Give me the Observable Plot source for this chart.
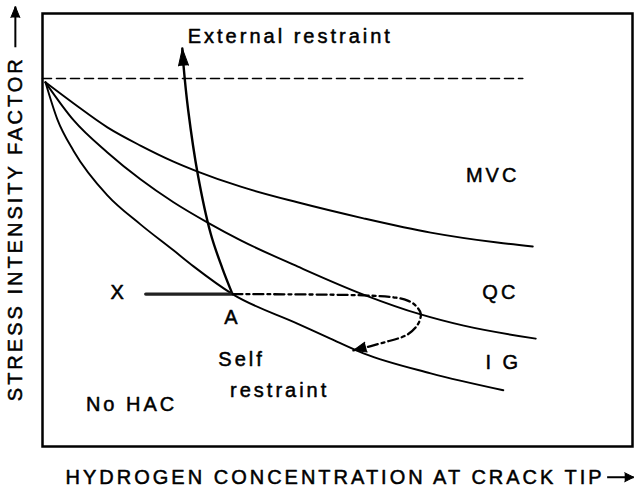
<!DOCTYPE html>
<html>
<head>
<meta charset="utf-8">
<script src="https://cdn.jsdelivr.net/npm/d3@7"></script>
<script src="https://cdn.jsdelivr.net/npm/@observablehq/plot@0.6"></script>
<style>
  html, body { margin: 0; padding: 0; background: #fff; }
  #chart { width: 641px; height: 490px; }
</style>
</head>
<body>
<div id="chart"></div>
<script>
// Schematic units: hydrogen concentration (x) and stress intensity factor (y), 0–100
const mvcX = [0.5, 5.3, 11.0, 16.6, 22.2, 26.3, 33.6, 43.2, 54.4, 65.8, 77.1, 83.1];
const mvcY = [84.1, 79.2, 73.7, 69.5, 65.8, 63.5, 60.0, 56.4, 52.7, 49.4, 47.1, 46.2];

const qcX = [0.5, 5.3, 11.0, 16.6, 22.2, 28.0, 33.6, 43.2, 54.4, 64.1, 71.4, 83.6];
const qcY = [84.1, 75.3, 67.9, 61.7, 56.4, 51.7, 47.6, 41.6, 35.1, 30.5, 27.9, 24.9];

const igX = [0.5, 2.5, 5.3, 11.0, 16.6, 22.2, 25.6, 32.2, 43.2, 48.8, 54.4, 65.8, 78.1];
const igY = [84.1, 75.6, 68.2, 58.0, 51.3, 45.3, 41.6, 35.2, 28.4, 24.9, 21.5, 16.9, 13.0];

// critical level (dashed)
const critX = [0, 81.4];
const critY = [85.0, 85.0];

// external restraint path (A upwards)
const extX = [32.2, 30.5, 28.5, 26.3, 24.7, 23.9, 23.7];
const extY = [35.2, 41.1, 49.2, 63.0, 77.6, 88.0, 91.9];

// X -> A loading path
const xaX = [17.5, 32.2];
const xaY = [35.2, 35.2];

// self restraint path (dash-dot)
const selfX = [32.2, 54.4, 59.8, 61.9, 63.2, 64.1, 63.7, 61.9, 57.8, 52.7];
const selfY = [35.2, 34.9, 34.4, 33.7, 32.6, 30.7, 28.4, 25.9, 24.0, 22.2];

// labels
const labelText = ["External restraint", "MVC", "QC", "I G", "X", "A", "restraint", "No HAC"];
const labelX = [42.0, 76.3, 77.6, 78.1, 12.9, 32.2, 40.2, 15.1];
const labelY = [94.7, 62.6, 35.6, 19.4, 35.6, 29.8, 12.9, 9.7];
const selfLabel = "Self";
const selfLabelX = 29.8, selfLabelY = 20.1;

// axis titles (with arrows drawn after them)
const xTitle = "HYDROGEN CONCENTRATION AT CRACK TIP";
const yTitle = "STRESS INTENSITY FACTOR";
const xTitlePos = {x: 49.6, y: -7.1};
const yTitlePos = {x: -4.6, y: 50.3};
const xArrow = {x1: 95.7, x2: 100.2, y: -7.1};   // arrow after x title
const yArrow = {y1: 92.2, y2: 101.6, x: -4.6};   // arrow after y title

const W = 641, H = 490, ML = 42, MR = 9, MT = 13, MB = 44;
const kx = (W - ML - MR) / 100, ky = (H - MT - MB) / 100;

const pts = (xs, ys) => xs.map((x, i) => ({x, y: ys[i]}));
function head(xs, ys) {
  const n = xs.length;
  const dx = (xs[n - 1] - xs[n - 2]) * kx;
  const dy = -(ys[n - 1] - ys[n - 2]) * ky;
  return {x: xs[n - 1], y: ys[n - 1], rotate: Math.atan2(dx, -dy) * 180 / Math.PI};
}

const curves = [
  ...pts(mvcX, mvcY).map(d => ({...d, k: "MVC"})),
  ...pts(qcX, qcY).map(d => ({...d, k: "QC"})),
  ...pts(igX, igY).map(d => ({...d, k: "IG"}))
];
const labels = labelText.map((t, i) => ({t, x: labelX[i], y: labelY[i]}));

const font = "'Liberation Sans', Arial, Helvetica, 'DejaVu Sans', sans-serif";
const txt = {fontSize: 20, fill: "#000", stroke: "#000", strokeWidth: 0.5};

const plot = Plot.plot({
  width: W, height: H,
  marginLeft: ML, marginRight: MR, marginTop: MT, marginBottom: MB,
  x: {domain: [0, 100], axis: null},
  y: {domain: [0, 100], axis: null},
  style: {fontFamily: font, letterSpacing: "3px", background: "#fff", color: "#000"},
  marks: [
    Plot.frame({stroke: "#000", strokeWidth: 2.5}),
    Plot.line(pts(critX, critY), {x: "x", y: "y", stroke: "#000", strokeWidth: 1.6, strokeDasharray: "9,5"}),
    Plot.line(curves, {x: "x", y: "y", z: "k", stroke: "#000", strokeWidth: 1.9, curve: "monotone-x"}),
    Plot.line(pts(extX, extY), {x: "x", y: "y", stroke: "#000", strokeWidth: 2.4, curve: "catmull-rom"}),
    Plot.vector([head(extX, extY)], {x: "x", y: "y", rotate: "rotate", length: 17, r: 5, anchor: "end", shape: "spike", fill: "#000", stroke: "#000", strokeWidth: 1}),
    Plot.line(pts(xaX, xaY), {x: "x", y: "y", stroke: "#222", strokeWidth: 3.4}),
    Plot.line(pts(selfX, selfY), {x: "x", y: "y", stroke: "#000", strokeWidth: 2.3, strokeDasharray: "10,4,3,4", curve: "catmull-rom"}),
    Plot.vector([head(selfX, selfY)], {x: "x", y: "y", rotate: "rotate", length: 13, r: 5, anchor: "end", shape: "spike", fill: "#000", stroke: "#000", strokeWidth: 1}),
    Plot.text(labels, {x: "x", y: "y", text: "t", ...txt, textAnchor: "middle", lineAnchor: "middle"}),
    Plot.text([selfLabel], {x: () => selfLabelX, y: () => selfLabelY, text: d => d, ...txt, textAnchor: "start", lineAnchor: "middle"}),
    Plot.text([xTitle], {x: () => xTitlePos.x, y: () => xTitlePos.y, text: d => d, ...txt, textAnchor: "middle", lineAnchor: "middle"}),
    Plot.text([yTitle], {x: () => yTitlePos.x, y: () => yTitlePos.y, text: d => d, ...txt, rotate: -90, textAnchor: "middle", lineAnchor: "middle"}),
    // title arrows
    Plot.link([xArrow], {x1: "x1", x2: "x2", y1: "y", y2: "y", stroke: "#000", strokeWidth: 2}),
    Plot.vector([xArrow], {x: "x2", y: "y", rotate: 90, length: 9, r: 4.5, anchor: "end", shape: "spike", fill: "#000", stroke: "#000", strokeWidth: 1}),
    Plot.link([yArrow], {x1: "x", x2: "x", y1: "y1", y2: "y2", stroke: "#000", strokeWidth: 2}),
    Plot.vector([yArrow], {x: "x", y: "y2", rotate: 0, length: 11, r: 4.5, anchor: "end", shape: "spike", fill: "#000", stroke: "#000", strokeWidth: 1})
  ]
});
document.getElementById("chart").appendChild(plot);
</script>
</body>
</html>
